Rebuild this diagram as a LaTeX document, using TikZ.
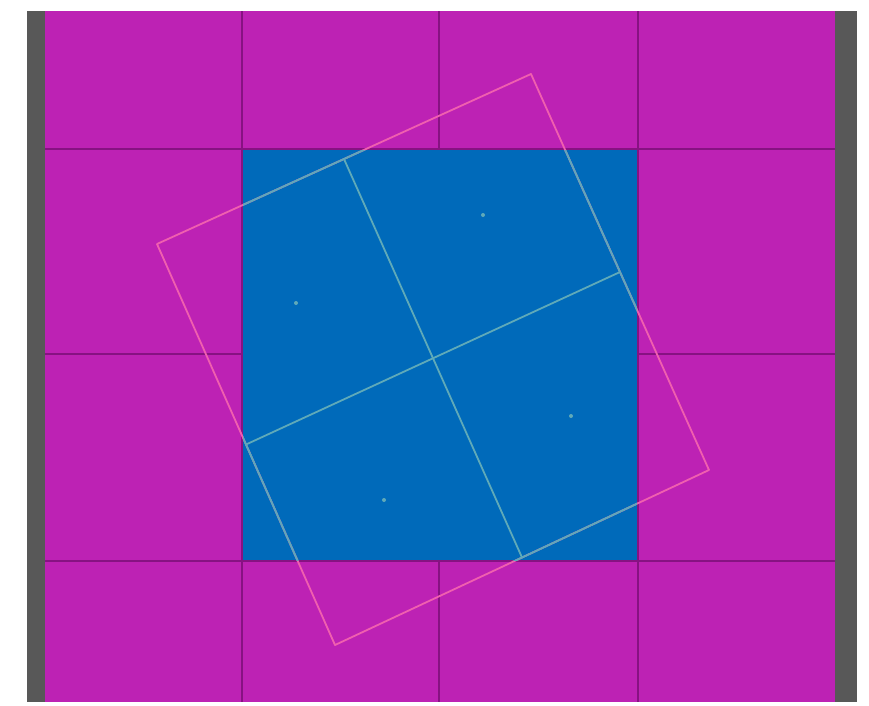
\documentclass[tikz,border=0pt]{standalone}
\usetikzlibrary{calc}
\definecolor{mag}{RGB}{189,34,180}
\definecolor{blu}{RGB}{0,106,186}
\definecolor{gridc}{RGB}{135,18,130}
\definecolor{barc}{RGB}{88,88,88}
\definecolor{pinkl}{RGB}{240,95,175}
\definecolor{cyanl}{RGB}{95,170,185}
\tikzset{
  gridline/.style={draw=gridc, line width=1.8pt},
  rotline/.style={line width=1.8pt},
  dotc/.style={circle, fill=cyanl, inner sep=0pt, minimum size=4pt}
}
\begin{document}
\begin{tikzpicture}[x=1pt,y=-1pt]
\useasboundingbox (0,0) rectangle (869,705);
\fill[white] (0,0) rectangle (869,705);
% side bars
\fill[barc] (27,11) rectangle (45,702);
\fill[barc] (835,11) rectangle (857,702);
% magenta field
\fill[mag] (45,11) rectangle (835,702);
% grid
\foreach \x in {242,439,638} \draw[gridline] (\x,11) -- (\x,702);
\foreach \y in {149,354,561} \draw[gridline] (45,\y) -- (835,\y);
% blue block (covers inner grid lines)
\fill[blu] (243,150) rectangle (637,560);
% rotated square corners
\coordinate (A) at (531,74);
\coordinate (B) at (709,470);
\coordinate (C) at (335,645);
\coordinate (D) at (157,244);
\coordinate (mDA) at ($(D)!0.5!(A)$);
\coordinate (mBC) at ($(B)!0.5!(C)$);
\coordinate (mCD) at ($(C)!0.5!(D)$);
\coordinate (mAB) at ($(A)!0.5!(B)$);
% outer square, pink outside blue
\draw[rotline, pinkl, line join=round] (A) -- (B) -- (C) -- (D) -- cycle;
\begin{scope}
  \clip (243,150) rectangle (637,560);
  \draw[rotline, cyanl, line join=round] (A) -- (B) -- (C) -- (D) -- cycle;
  \draw[rotline, cyanl] (mDA) -- (mBC);
  \draw[rotline, cyanl] (mCD) -- (mAB);
\end{scope}
% centre dots
\node[dotc] (d1) at (483,215) {};
\node[dotc] (d2) at (296,303) {};
\node[dotc] (d3) at (571,416) {};
\node[dotc] (d4) at (384,500) {};
\end{tikzpicture}
\end{document}
